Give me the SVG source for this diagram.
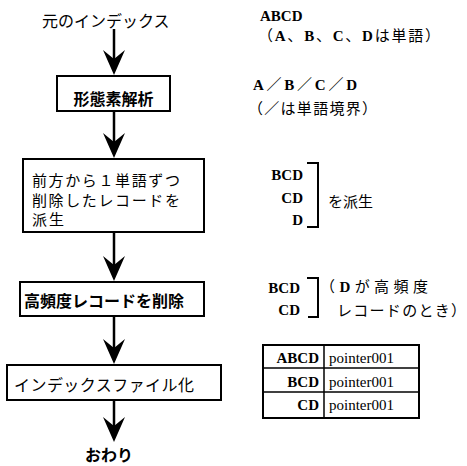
<svg xmlns="http://www.w3.org/2000/svg" width="467" height="466" viewBox="0 0 467 466">
<defs>
<style>
.bg{fill:#fff}
.box{fill:#fff;stroke:#000;stroke-width:2}
.stem{stroke:#000;stroke-width:2.5;fill:none}
.jp{font-family:"Noto Sans CJK JP","Noto Sans",sans-serif;font-size:16px;fill:#000}
.jp2{font-family:"Noto Sans CJK JP","Noto Sans",sans-serif;font-size:15px;fill:#000}
.b{font-weight:bold}
.rj{font-family:"Liberation Serif","Noto Sans CJK JP",serif;font-size:15px;fill:#000}
.lat{font-family:"Liberation Serif",serif;font-size:15px;font-weight:bold;fill:#000}
.ptr{font-family:"Liberation Serif",serif;font-size:15px;fill:#000}
.br{stroke:#000;stroke-width:2;fill:none}
.tb{fill:none;stroke:#000;stroke-width:2}
.tl{stroke:#000;stroke-width:1.5}
</style>
<marker id="ah" viewBox="-21 -12 27 24" refX="0" refY="0" markerWidth="27" markerHeight="24" markerUnits="userSpaceOnUse" orient="auto">
<path d="M5,0 L-20,-11 L-11,0 L-20,11 Z" fill="#000"/>
</marker>
</defs>
<rect class="bg" x="0" y="0" width="467" height="466"/>

<g id="start"><text class="jp" x="42" y="27">元のインデックス</text></g>

<g id="n1">
<rect class="box" x="57" y="76" width="113" height="35"/>
<text class="jp b" x="113.5" y="105" text-anchor="middle">形態素解析</text>
</g>

<g id="n2">
<rect class="box" x="23" y="159" width="181" height="73"/>
<text class="jp2" x="32" y="186" textLength="148">前方から１単語ずつ</text>
<text class="jp2" x="32" y="205.5" textLength="148">削除したレコードを</text>
<text class="jp2" x="32" y="224.5" textLength="32">派生</text>
</g>

<g id="n3">
<rect class="box" x="20" y="282" width="184" height="34"/>
<text class="jp b" x="24" y="307">高頻度レコードを削除</text>
</g>

<g id="n4">
<rect class="box" x="7" y="365" width="214" height="35"/>
<text class="jp" x="14" y="390.5" textLength="180">インデックスファイル化</text>
</g>

<g id="end"><text class="jp b" x="109" y="461" text-anchor="middle" font-size="15">おわり</text></g>

<g id="connectors">
<line class="stem" x1="114" y1="29" x2="114" y2="70" marker-end="url(#ah)"/>
<line class="stem" x1="114" y1="111" x2="114" y2="153" marker-end="url(#ah)"/>
<line class="stem" x1="114" y1="232" x2="114" y2="276" marker-end="url(#ah)"/>
<line class="stem" x1="114" y1="316" x2="114" y2="359" marker-end="url(#ah)"/>
<line class="stem" x1="114" y1="400" x2="114" y2="437" marker-end="url(#ah)"/>
</g>

<g id="note1">
<text class="lat" x="260" y="21">ABCD</text>
<text class="rj" x="258" y="41" textLength="182">（<tspan font-weight="bold">A</tspan>、<tspan font-weight="bold">B</tspan>、<tspan font-weight="bold">C</tspan>、<tspan font-weight="bold">D</tspan>は単語）</text>
</g>

<g id="note2">
<text class="rj" x="253" y="90" textLength="104"><tspan font-weight="bold">A</tspan>／<tspan font-weight="bold">B</tspan>／<tspan font-weight="bold">C</tspan>／<tspan font-weight="bold">D</tspan></text>
<text class="rj" x="248" y="114" textLength="129">（／は単語境界）</text>
</g>

<g id="note3">
<text class="lat" x="303" y="180" text-anchor="end">BCD</text>
<text class="lat" x="303" y="203" text-anchor="end">CD</text>
<text class="lat" x="303" y="225" text-anchor="end">D</text>
<path class="br" d="M307,163 H318 V227 H307"/>
<text class="rj" x="328" y="207" font-size="16">を派生</text>
</g>

<g id="note4">
<text class="lat" x="300" y="293" text-anchor="end">BCD</text>
<text class="lat" x="300" y="315" text-anchor="end">CD</text>
<path class="br" d="M307,278 H318 V317 H308"/>
<text class="rj" x="320" y="292" font-size="16" textLength="108">（<tspan font-weight="bold">D</tspan>が高頻度</text>
<text class="rj" x="337" y="316" font-size="16" textLength="129">レコードのとき）</text>
</g>

<g id="table">
<rect class="tb" x="263" y="345" width="156" height="73"/>
<line class="tl" x1="263" y1="368" x2="419" y2="368"/>
<line class="tl" x1="263" y1="392" x2="419" y2="392"/>
<line class="tl" x1="324" y1="345" x2="324" y2="418"/>
<text class="lat" x="319" y="363" text-anchor="end" font-size="16">ABCD</text>
<text class="lat" x="319" y="387" text-anchor="end" font-size="16">BCD</text>
<text class="lat" x="319" y="410" text-anchor="end" font-size="16">CD</text>
<text class="ptr" x="329" y="363">pointer001</text>
<text class="ptr" x="329" y="387">pointer001</text>
<text class="ptr" x="329" y="410">pointer001</text>
</g>
</svg>
